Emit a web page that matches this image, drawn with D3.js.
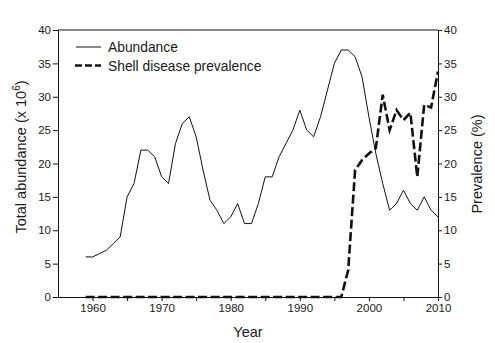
<!DOCTYPE html>
<html>
<head>
<meta charset="utf-8">
<script src="https://cdn.jsdelivr.net/npm/d3@7"></script>
<style>
  body { margin: 0; background: #fff; }
  svg text { font-family: "Liberation Sans", Arial, sans-serif; fill: #1a1a1a; }
</style>
</head>
<body>
<div id="chart"></div>
<script>
// yearly values
const years = [1959, 1960, 1961, 1962, 1963, 1964, 1965, 1966, 1967, 1968,
  1969, 1970, 1971, 1972, 1973, 1974, 1975, 1976, 1977, 1978,
  1979, 1980, 1981, 1982, 1983, 1984, 1985, 1986, 1987, 1988,
  1989, 1990, 1991, 1992, 1993, 1994, 1995, 1996, 1997, 1998,
  1999, 2000, 2001, 2002, 2003, 2004, 2005, 2006, 2007, 2008,
  2009, 2010];

const abundance = [6, 6, 6.5, 7, 8, 9, 15, 17, 22, 22,
  21, 18, 17, 23, 26, 27, 24, 19, 14.5, 13,
  11, 12, 14, 11, 11, 14, 18, 18, 21, 23,
  25, 28, 25, 24, 27, 31, 35, 37, 37, 36,
  33, 27, 21.5, 17, 13, 14, 16, 14, 13, 15,
  13, 12];

const prevalence = [0, 0, 0, 0, 0, 0, 0, 0, 0, 0,
  0, 0, 0, 0, 0, 0, 0, 0, 0, 0,
  0, 0, 0, 0, 0, 0, 0, 0, 0, 0,
  0, 0, 0, 0, 0, 0, 0, 0, 4, 19,
  20.5, 21.5, 22.3, 30.3, 25, 28, 26.5, 27.6, 18, 28.8,
  28.4, 33.8];

const yTicks = [0, 5, 10, 15, 20, 25, 30, 35, 40];
const xTicks = [1960, 1965, 1970, 1975, 1980, 1985, 1990, 1995, 2000, 2005, 2010];

const seriesNames = ["Abundance", "Shell disease prevalence"];

const width = 495, height = 343;
const plot = { left: 58, right: 438, top: 30, bottom: 297 };

const svg = d3.select("#chart").append("svg")
  .attr("width", width)
  .attr("height", height);

const x = d3.scaleLinear().domain([1955, 2010]).range([plot.left, plot.right]);
const yLeft = d3.scaleLinear().domain([0, 40]).range([plot.bottom, plot.top]);
const yRight = d3.scaleLinear().domain([0, 40]).range([plot.bottom, plot.top]);

// axes
const gx = svg.append("g")
  .attr("transform", `translate(0,${plot.bottom})`)
  .call(d3.axisBottom(x)
    .tickValues(xTicks)
    .tickFormat(d => d % 10 === 0 ? d : "")
    .tickSize(4)
    .tickSizeOuter(0)
    .tickPadding(3));

const gl = svg.append("g")
  .attr("transform", `translate(${plot.left},0)`)
  .call(d3.axisLeft(yLeft).tickValues(yTicks).tickSize(5).tickSizeOuter(0).tickPadding(2));

const gr = svg.append("g")
  .attr("transform", `translate(${plot.right},0)`)
  .call(d3.axisRight(yRight).tickValues(yTicks).tickSize(4).tickSizeOuter(0).tickPadding(2));

[gx, gl, gr].forEach(g => {
  g.selectAll("path, line").attr("stroke", "#111").attr("stroke-width", 1);
  g.selectAll("text").style("font-size", "11.5px");
});

// top border
svg.append("line")
  .attr("x1", plot.left).attr("x2", plot.right)
  .attr("y1", plot.top).attr("y2", plot.top)
  .attr("stroke", "#111");

// lines
const abLine = d3.line()
  .x((d, i) => x(years[i]))
  .y(d => yLeft(d));

const prLine = d3.line()
  .x((d, i) => x(years[i]))
  .y(d => yRight(d));

svg.append("path")
  .datum(prevalence)
  .attr("d", prLine)
  .attr("fill", "none")
  .attr("stroke", "#111")
  .attr("stroke-width", 2.6)
  .attr("stroke-dasharray", "9,3.5");

svg.append("path")
  .datum(abundance)
  .attr("d", abLine)
  .attr("fill", "none")
  .attr("stroke", "#111")
  .attr("stroke-width", 1);

// legend
const legend = svg.append("g");
legend.append("line")
  .attr("x1", 76).attr("x2", 101).attr("y1", 47).attr("y2", 47)
  .attr("stroke", "#111").attr("stroke-width", 1);
legend.append("line")
  .attr("x1", 75).attr("x2", 101).attr("y1", 65.5).attr("y2", 65.5)
  .attr("stroke", "#111").attr("stroke-width", 2.6)
  .attr("stroke-dasharray", "7,3");
legend.selectAll("text")
  .data(seriesNames)
  .enter().append("text")
  .attr("x", 108)
  .attr("y", (d, i) => 52 + i * 18.5)
  .style("font-size", "13.8px")
  .text(d => d);

// axis titles
svg.append("text")
  .attr("x", (plot.left + plot.right) / 2)
  .attr("y", 337)
  .attr("text-anchor", "middle")
  .style("font-size", "14.5px")
  .text("Year");

const lt = svg.append("text")
  .attr("transform", "translate(26,157) rotate(-90)")
  .attr("text-anchor", "middle")
  .style("font-size", "14.5px");
lt.append("tspan").text("Total abundance (x 10");
lt.append("tspan").attr("dy", -6).style("font-size", "10px").text("6");
lt.append("tspan").attr("dy", 6).text(")");

svg.append("text")
  .attr("transform", "translate(482,164) rotate(-90)")
  .attr("text-anchor", "middle")
  .style("font-size", "14.5px")
  .text("Prevalence (%)");
</script>
</body>
</html>
